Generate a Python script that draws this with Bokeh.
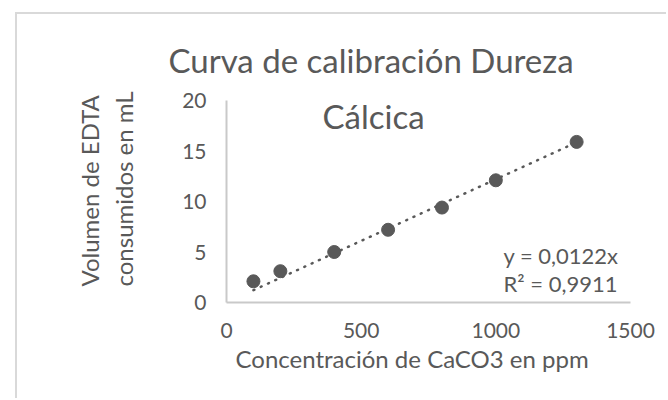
import math
from bokeh.plotting import figure
from bokeh.models import Label, FixedTicker, Title
from bokeh.embed import file_html
from bokeh.resources import INLINE

# ---- data ----
concentracion_ppm = [100, 200, 400, 600, 800, 1000, 1300]
volumen_edta_ml = [2.1, 3.1, 5.0, 7.2, 9.4, 12.1, 15.9]
pendiente = 0.0122
r2_text = "R² = 0,9911"
eq_text = "y = 0,0122x"
x_ticks = [0, 500, 1000, 1500]
y_ticks = [0, 5, 10, 15, 20]
titulo = ["Curva de calibración Dureza", "Cálcica"]
y_titulo = ["Volumen de EDTA", "consumidos en mL"]
x_titulo = "Concentración de CaCO3 en ppm"

FONT = "Lato"
TXT = "#595959"
AX = "#c9c9c9"

p = figure(width=651, height=386, output_backend="svg", toolbar_location=None,
           x_range=(0, 1500), y_range=(0, 20),
           min_border_left=209, min_border_right=38, min_border_top=86, min_border_bottom=98,
           styles={"margin-left": "15px", "margin-top": "12px",
                   "border-left": "2px solid #d9d9d9", "border-top": "2px solid #d9d9d9"})
p.outline_line_color = None
p.xgrid.visible = False
p.ygrid.visible = False
p.background_fill_color = "white"
p.border_fill_color = "white"

for ax, ticks in ((p.xaxis, x_ticks), (p.yaxis, y_ticks)):
    ax.ticker = FixedTicker(ticks=ticks)
    ax.axis_line_color = AX
    ax.axis_line_width = 2
    ax.major_tick_line_color = None
    ax.minor_tick_line_color = None
    ax.major_tick_out = 0
    ax.major_tick_in = 0
    ax.major_label_text_font = FONT
    ax.major_label_text_font_size = "21px"
    ax.major_label_text_color = TXT
p.xaxis.major_label_standoff = 20
p.yaxis.major_label_standoff = 20

# titles placed in side panels
p.add_layout(Title(text=titulo[0], align="left", offset=-58, vertical_align="bottom",
                   standoff=42, text_font=FONT, text_font_size="33px",
                   text_font_style="normal", text_color=TXT), "above")
p.add_layout(Title(text=y_titulo[0] + "\n" + y_titulo[1], align="left", offset=16,
                   vertical_align="bottom", standoff=82, text_font=FONT,
                   text_font_size="24px", text_line_height=1.2,
                   text_font_style="normal", text_color=TXT), "left")
p.add_layout(Title(text=x_titulo, align="left", offset=9, vertical_align="top",
                   standoff=6, text_font=FONT, text_font_size="24px",
                   text_font_style="normal", text_color=TXT), "below")

# trendline through origin
tx = [min(concentracion_ppm), max(concentracion_ppm)]
ty = [pendiente * v for v in tx]
p.line(tx, ty, line_color=TXT, line_width=2.5, line_dash="1 7", line_cap="round")

p.scatter(concentracion_ppm, volumen_edta_ml, size=13, color=TXT)

def lab(x, y, text, size, align="center", baseline="alphabetic"):
    p.add_layout(Label(x=x, y=y, x_units="screen", y_units="screen", text=text,
                       text_font=FONT, text_font_size=size, text_color=TXT,
                       text_align=align, text_baseline=baseline))

lab(147, 187, titulo[1], "33px")
lab(277, 47, eq_text, "22px", align="left", baseline="middle")
lab(277, 19, r2_text, "22px", align="left", baseline="middle")

open("out.html", "w").write(file_html(p, INLINE))
